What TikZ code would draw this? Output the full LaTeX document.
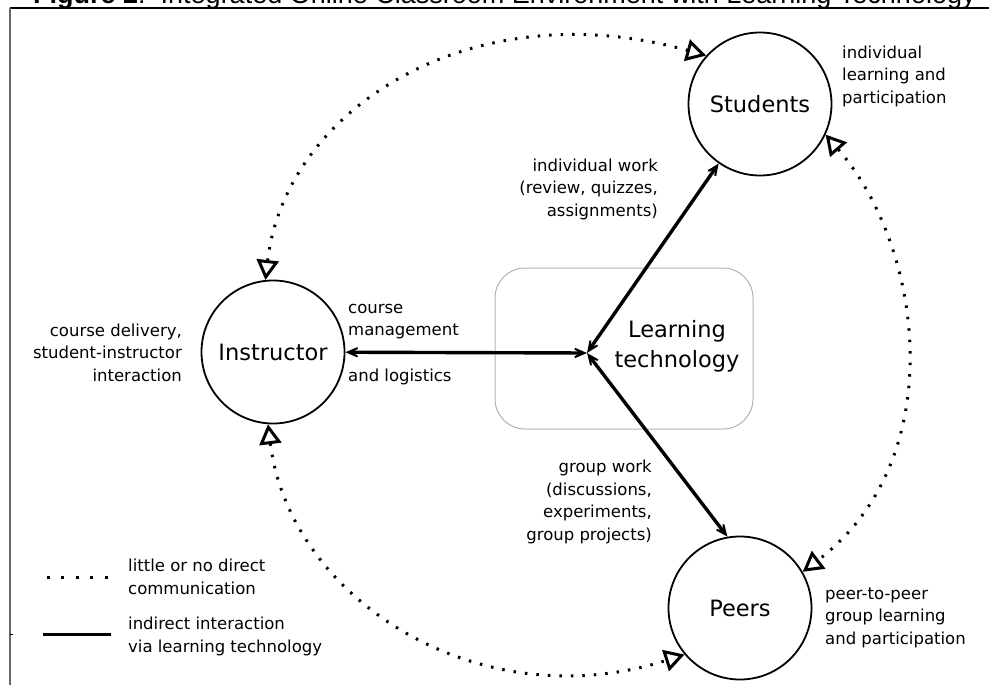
\documentclass[tikz,border=0pt]{standalone}
\usepackage{fontspec}
\setmainfont{DejaVu Sans}
\newfontfamily\titlefont{Liberation Sans}
\usetikzlibrary{arrows.meta}
\newcommand\biglbl{\fontsize{22.5}{30}\selectfont}
\newcommand\smalllbl{\fontsize{16.5}{22.5}\selectfont}
\begin{document}
\begin{tikzpicture}[x=1pt,y=-1pt,
  circ/.style={draw, circle, line width=1.8pt, minimum size=143pt, inner sep=0pt, font=\biglbl},
  small/.style={inner sep=0pt, font=\smalllbl},
  soltip/.tip={Stealth[length=22pt,width=19pt,inset=15pt]},
  opentip/.tip={Triangle[open,length=20pt,width=22pt,line width=3pt]},
  solidarr/.style={line width=3.4pt, soltip-soltip},
  dotarc/.style={line width=3pt, dash pattern=on 2.5pt off 9pt, opentip-opentip},
]
\useasboundingbox (0,0) rectangle (989,685);
% title (mostly cut off at the top)
\node[anchor=base west, inner sep=0pt, font=\titlefont\fontsize{27}{32}\selectfont] (title) at (33,4)
  {\textbf{Figure 2}:\ \ Integrated Online Classroom Environment with Learning Technology};
% frame
\draw[line width=1.3pt] (10,8) -- (989,8);
\draw[line width=1.5pt, black!60] (10,8) -- (10,685);
\draw[line width=0.8pt] (10,634) -- (13,634);

% learning technology box
\node[draw=black!30, line width=1pt, rounded corners=30pt, minimum width=258pt, minimum height=161pt, inner sep=0pt] (LT) at (624,348.5) {};
\node[font=\biglbl, align=center, anchor=base, inner sep=0pt] (LTt) at (677,367) {Learning\\technology};
\coordinate (hub) at (587,353);

% actors
\node[circ] (S) at (760,104) {Students};
\node[circ] (I) at (273,352) {Instructor};
\node[circ] (P) at (740,608) {Peers};

% solid arrows
\draw[solidarr] (I) -- (hub);
\draw[solidarr] (S) -- (hub);
\draw[solidarr] (P.100) -- (hub);

% dotted arcs
\draw[dotarc] (I.96) .. controls (285,110) and (470,-10) .. (S.138);
\draw[dotarc] (S.-25) .. controls (925,250) and (950,460) .. (P.30);
\draw[dotarc] (I.-94) .. controls (290,600) and (480,720) .. (P.220);

% labels (base anchor = baseline of the last line)
\node[small, align=left, anchor=base west] (Slbl) at (842,103) {individual\\learning and\\participation};
\node[small, align=right, anchor=base east] (Swork) at (658,216) {individual work\\(review, quizzes,\\assignments)};
\node[small, align=right, anchor=base east] (Ilbl) at (182,381) {course delivery,\\student-instructor\\interaction};
\node[small, align=left, anchor=base west] (Iwork) at (348,381) {course\\management\\[23pt]and logistics};
\node[small, align=right, anchor=base east] (Pwork) at (652,540) {group work\\(discussions,\\experiments,\\group projects)};
\node[small, align=left, anchor=base west] (Plbl) at (825,644) {peer-to-peer\\group learning\\and participation};

% legend
\coordinate (ld1) at (46.5,577);
\coordinate (ld2) at (109,577);
\draw[line width=3pt, dash pattern=on 3pt off 11.5pt] (ld1) -- (ld2);
\coordinate (ls1) at (43,634);
\coordinate (ls2) at (111,634);
\draw[line width=3pt] (ls1) -- (ls2);
\node[small, align=left, anchor=base west] (leg1) at (128,594) {little or no direct\\communication};
\node[small, align=left, anchor=base west] (leg2) at (128,652) {indirect interaction\\via learning technology};
\end{tikzpicture}
\end{document}
